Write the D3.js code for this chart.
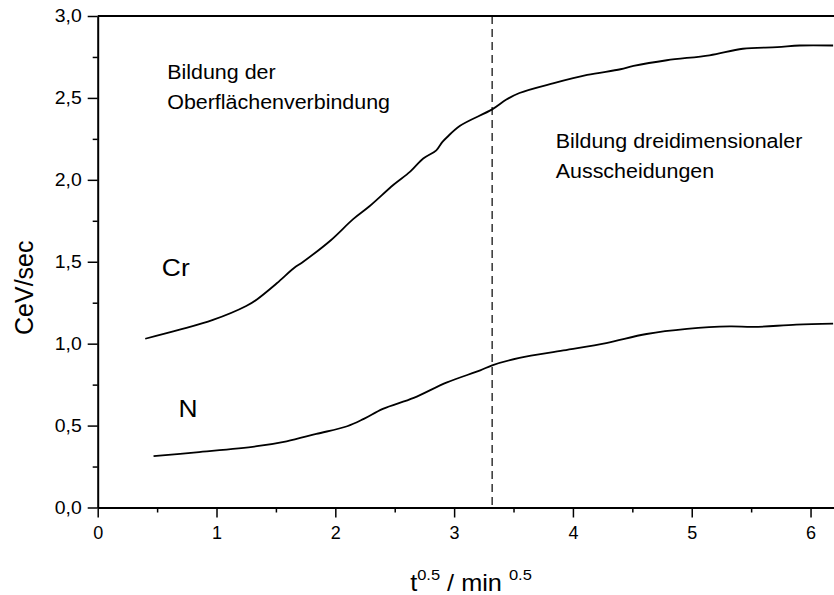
<!DOCTYPE html>
<html>
<head>
<meta charset="utf-8">
<script src="https://cdn.jsdelivr.net/npm/d3@7"></script>
<style>
  html, body { margin: 0; padding: 0; background: #fff; }
  svg { display: block; font-family: "Liberation Sans", Arial, Helvetica, sans-serif; }
</style>
</head>
<body>
<svg id="chart" width="834" height="595"></svg>
<script>
// ---- data ----
const crT = [0.40, 0.69, 0.97, 1.25, 1.34, 1.51, 1.65, 1.73, 1.96, 2.15, 2.29, 2.49, 2.63, 2.74, 2.85, 2.90, 2.94, 3.05, 3.32, 3.44, 3.55, 3.84, 4.12, 4.40, 4.51, 4.79, 5.15, 5.43, 5.72, 5.91, 6.19];
const crV = [1.03, 1.085, 1.145, 1.23, 1.27, 1.37, 1.46, 1.50, 1.63, 1.76, 1.84, 1.97, 2.05, 2.13, 2.18, 2.23, 2.26, 2.33, 2.43, 2.49, 2.53, 2.59, 2.64, 2.675, 2.695, 2.73, 2.76, 2.80, 2.81, 2.82, 2.82];
const nT = [0.47, 0.83, 1.34, 1.59, 1.84, 2.10, 2.24, 2.40, 2.66, 2.94, 3.22, 3.32, 3.55, 3.92, 4.28, 4.62, 4.96, 5.32, 5.52, 5.88, 6.19];
const nV = [0.313, 0.337, 0.374, 0.404, 0.449, 0.496, 0.541, 0.602, 0.669, 0.764, 0.837, 0.868, 0.913, 0.959, 1.004, 1.059, 1.09, 1.105, 1.102, 1.116, 1.122];
const xTicks = [0, 1, 2, 3, 4, 5, 6];
const xMinor = [0.5, 1.5, 2.5, 3.5, 4.5, 5.5];
const yTicks = [0, 0.5, 1.0, 1.5, 2.0, 2.5, 3.0];
const yMinor = [0.25, 0.75, 1.25, 1.75, 2.25, 2.75];
const dividerT = 3.32;
const seriesLabels = [{text: "Cr", t: 0.54, v: 1.41}, {text: "N", t: 0.68, v: 0.55}];
const notes = [
  {lines: ["Bildung der", "Oberflächenverbindung"], t: 0.585, v: 2.616},
  {lines: ["Bildung dreidimensionaler", "Ausscheidungen"], t: 3.855, v: 2.197}
];

// ---- layout ----
const svg = d3.select("#chart");
const x = d3.scaleLinear().domain([0, 6.2]).range([97.7, 834.3]);
const y = d3.scaleLinear().domain([0, 3]).range([507.5, 16]);
const fmt = d => d3.format(".1f")(d).replace(".", ",");
const SX = 1.1; // horizontal stretch of the reference's lettering

// frame top line
svg.append("line").attr("x1", x(0)).attr("x2", 834).attr("y1", y(3)).attr("y2", y(3))
  .attr("stroke", "#000").attr("stroke-width", 2);

// x axis
const xAxis = svg.append("g").attr("transform", `translate(0,${y(0)})`)
  .call(d3.axisBottom(x).tickValues(xTicks).tickFormat(d3.format("d")).tickSize(10).tickPadding(9).tickSizeOuter(0));
xAxis.select(".domain").attr("stroke-width", 2);
xAxis.selectAll(".tick line").attr("stroke-width", 1.5);
xAxis.selectAll("text").attr("font-size", 18).attr("fill", "#000").attr("font-family", "Liberation Sans, Arial, sans-serif");
svg.append("g").attr("transform", `translate(0,${y(0)})`)
  .call(d3.axisBottom(x).tickValues(xMinor).tickFormat("").tickSize(5).tickSizeOuter(0))
  .call(g => g.select(".domain").remove())
  .selectAll(".tick line").attr("stroke-width", 1.5);

// y axis
const yAxis = svg.append("g").attr("transform", `translate(${x(0)},0)`)
  .call(d3.axisLeft(y).tickValues(yTicks).tickFormat(fmt).tickSize(10).tickPadding(6).tickSizeOuter(0));
yAxis.select(".domain").attr("stroke-width", 2);
yAxis.selectAll(".tick line").attr("stroke-width", 1.5);
yAxis.selectAll("text").attr("font-size", 18).attr("fill", "#000").attr("font-family", "Liberation Sans, Arial, sans-serif")
  .attr("transform", "translate(-16,0) scale(1.08,1) translate(16,0)");
svg.append("g").attr("transform", `translate(${x(0)},0)`)
  .call(d3.axisLeft(y).tickValues(yMinor).tickFormat("").tickSize(5).tickSizeOuter(0))
  .call(g => g.select(".domain").remove())
  .selectAll(".tick line").attr("stroke-width", 1.5);

// axis titles
svg.append("text").attr("transform", `translate(33,${(y(0) + y(3)) / 2 + 26}) rotate(-90)`)
  .attr("text-anchor", "middle").attr("font-size", 25).text("CeV/sec");
const xt = svg.append("text").attr("transform", `translate(471,591) scale(${SX},1)`)
  .attr("text-anchor", "middle").attr("font-size", 23);
xt.append("tspan").text("t");
xt.append("tspan").attr("font-size", 15).attr("dy", -11).text("0.5");
xt.append("tspan").attr("dy", 11).text(" / min ");
xt.append("tspan").attr("font-size", 15).attr("dy", -11).text("0.5");

// divider
svg.append("line").attr("x1", x(dividerT)).attr("x2", x(dividerT)).attr("y1", y(3)).attr("y2", y(0))
  .attr("stroke", "#000").attr("stroke-width", 1.2).attr("stroke-dasharray", "8,5");

// curves
const line = d3.line().x(d => x(d[0])).y(d => y(d[1])).curve(d3.curveCatmullRom.alpha(0.5));
svg.append("path").datum(crT.map((t, i) => [t, crV[i]])).attr("d", line)
  .attr("fill", "none").attr("stroke", "#000").attr("stroke-width", 1.8);
svg.append("path").datum(nT.map((t, i) => [t, nV[i]])).attr("d", line)
  .attr("fill", "none").attr("stroke", "#000").attr("stroke-width", 1.8);

// labels
seriesLabels.forEach(l => {
  svg.append("text").attr("transform", `translate(${x(l.t)},${y(l.v)}) scale(${SX},1)`)
    .attr("font-size", 24).text(l.text);
});
notes.forEach(n => {
  n.lines.forEach((s, i) => {
    svg.append("text").attr("transform", `translate(${x(n.t)},${y(n.v) + i * 30}) scale(${SX},1)`)
      .attr("font-size", 19.5).text(s);
  });
});
</script>
</body>
</html>
